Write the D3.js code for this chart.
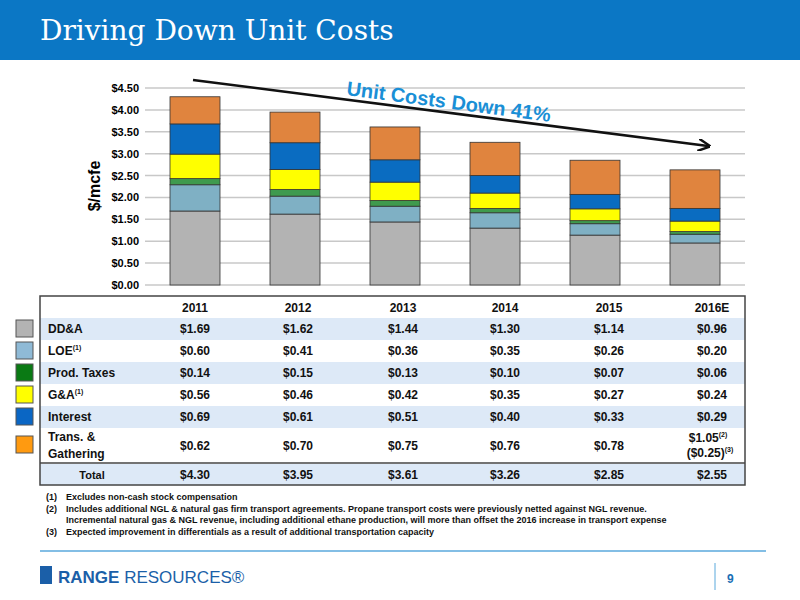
<!DOCTYPE html>
<html><head><meta charset="utf-8">
<script src="https://cdn.jsdelivr.net/npm/d3@7"></script>
<style>body{margin:0;background:#fff}svg{display:block}</style>
</head><body><svg id="c" width="800" height="600"></svg>
<script>
const years = ["2011","2012","2013","2014","2015","2016E"];
const seriesNames = ["DD&A","LOE","Prod. Taxes","G&A","Interest","Trans. & Gathering"];
const seriesColors = ["#b3b3b3","#7fb0c4","#3f9a4e","#ffff00","#0a6cc1","#e0843e"];
const legendColors = ["#b3b3b3","#8fbad6","#0a7a14","#ffff00","#0a66c4","#ff9a10"];
const dda = [1.69,1.62,1.44,1.30,1.14,0.96];
const loe = [0.60,0.41,0.36,0.35,0.26,0.20];
const prodTaxes = [0.14,0.15,0.13,0.10,0.07,0.06];
const ga = [0.56,0.46,0.42,0.35,0.27,0.24];
const interest = [0.69,0.61,0.51,0.40,0.33,0.29];
const transChart = [0.62,0.70,0.75,0.76,0.78,0.88];
const transLabels = ["$0.62","$0.70","$0.75","$0.76","$0.78","$1.05|($0.25)"];
const totals = ["$4.30","$3.95","$3.61","$3.26","$2.85","$2.55"];
const yTicks = [0,0.5,1,1.5,2,2.5,3,3.5,4,4.5];

const svg = d3.select("#c");
const F = "Arial, 'Liberation Sans', sans-serif";
svg.append("rect").attr("width",800).attr("height",60).attr("fill","#0b77c5");
svg.append("text").attr("x",40).attr("y",40).attr("fill","#fff").attr("font-family","'DejaVu Serif', 'Liberation Serif', serif").attr("font-size",28).text("Driving Down Unit Costs");

const x = d3.scaleBand().domain(years).range([145,745]).paddingInner(0.5).paddingOuter(0.25);
const y = d3.scaleLinear().domain([0,4.5]).range([285,88]);
const g = svg.append("g");
g.selectAll("line.grid").data(yTicks).join("line").attr("x1",145).attr("x2",745)
 .attr("y1",d=>y(d)).attr("y2",d=>y(d)).attr("stroke","#c8c8c8").attr("stroke-width",1.5);
const yAxis = d3.axisLeft(y).tickValues(yTicks).tickFormat(d=>"$"+d.toFixed(2)).tickSize(0).tickPadding(6);
const ya = svg.append("g").attr("transform","translate(145,0)").call(yAxis);
ya.select(".domain").remove();
ya.selectAll("text").attr("font-family",F).attr("font-size",11).attr("font-weight","bold").attr("fill","#000");
svg.append("text").attr("transform","translate(100,186) rotate(-90)").attr("text-anchor","middle")
 .attr("font-family",F).attr("font-size",16).attr("font-weight","bold").text("$/mcfe");

const data = years.map((yr,i)=>({yr,v:[dda[i],loe[i],prodTaxes[i],ga[i],interest[i],transChart[i]]}));
const stack = d3.stack().keys(d3.range(6)).value((d,k)=>d.v[k])(data);
stack.forEach((layer,k)=>{
  g.selectAll(null).data(layer).join("rect")
   .attr("x",d=>x(d.data.yr)).attr("width",x.bandwidth())
   .attr("y",d=>y(d[1])).attr("height",d=>y(d[0])-y(d[1]))
   .attr("fill",seriesColors[k]).attr("stroke","#333").attr("stroke-width",0.8);
});
svg.append("defs").append("marker").attr("id","ah").attr("viewBox","0 0 10 10").attr("refX",8).attr("refY",5)
 .attr("markerWidth",5).attr("markerHeight",5).attr("orient","auto")
 .append("path").attr("d","M0,0 L10,5 L0,10").attr("fill","none").attr("stroke","#111").attr("stroke-width",2);
svg.append("line").attr("x1",193).attr("y1",80).attr("x2",708).attr("y2",146).attr("stroke","#111").attr("stroke-width",2.5).attr("marker-end","url(#ah)");
svg.append("text").attr("transform","translate(346,95) rotate(7.5)").attr("font-family",F).attr("font-size",20)
 .attr("font-weight","bold").attr("fill","#1a8fd6").text("Unit Costs Down 41%");

const cols = [195,298,403,505,609,712];
const rowsY = [297,318,340,362,384,406,428,464,485];
const T = svg.append("g");
[1,3,5,7].forEach(r=>T.append("rect").attr("x",40).attr("width",705).attr("y",rowsY[r]).attr("height",rowsY[r+1]-rowsY[r]).attr("fill","#dde9f7"));
T.append("rect").attr("x",40).attr("y",296).attr("width",705).attr("height",189).attr("fill","none").attr("stroke","#444").attr("stroke-width",1.5);
T.append("line").attr("x1",40).attr("x2",745).attr("y1",463).attr("y2",463).attr("stroke","#444").attr("stroke-width",1.5);
const txt=(xx,yy,s,anchor,size,w)=>T.append("text").attr("x",xx).attr("y",yy).attr("text-anchor",anchor||"middle")
  .attr("font-family",F).attr("font-size",size||12).attr("font-weight",w||"bold").attr("fill","#111").text(s);
years.forEach((yr,i)=>txt(cols[i],312,yr));
const vals=[dda,loe,prodTaxes,ga,interest];
const labels=["DD&A","LOE","Prod. Taxes","G&A","Interest"];
labels.forEach((l,k)=>{
  const cy=(rowsY[k+1]+rowsY[k+2])/2+4;
  const t=txt(48,cy,l,"start");
  if(l==="LOE"||l==="G&A") t.append("tspan").attr("font-size",7).attr("dy",-5).text("(1)");
  vals[k].forEach((v,i)=>txt(cols[i],cy,"$"+v.toFixed(2)));
  T.append("rect").attr("x",16).attr("y",cy-13).attr("width",17).attr("height",17).attr("fill",legendColors[k]).attr("stroke","#555");
});
txt(48,441,"Trans. &","start"); txt(48,458,"Gathering","start");
T.append("rect").attr("x",16).attr("y",436).attr("width",17).attr("height",17).attr("fill",legendColors[5]).attr("stroke","#555");
transLabels.forEach((s,i)=>{
  if(s.includes("|")){
    const [a,b]=s.split("|");
    txt(cols[i]-4,442,a).append("tspan").attr("font-size",7).attr("dy",-5).text("(2)");
    txt(cols[i]-2,457,b).append("tspan").attr("font-size",7).attr("dy",-5).text("(3)");
  } else txt(cols[i],450,s);
});
txt(92,479,"Total","middle",11);
totals.forEach((s,i)=>txt(cols[i],479,s));

const notes=[["(1)","Excludes non-cash stock compensation"],["(2)","Includes additional NGL & natural gas firm transport agreements.  Propane transport costs were previously netted against NGL revenue."],["","Incremental natural gas & NGL revenue, including additional ethane production, will more than offset the 2016 increase in transport expense"],["(3)","Expected improvement in differentials as a result of additional transportation capacity"]];
notes.forEach((n,i)=>{
  txt(46,500+i*11.5,n[0],"start",9);
  txt(66,500+i*11.5,n[1],"start",9);
});
svg.append("line").attr("x1",40).attr("x2",766).attr("y1",551).attr("y2",551).attr("stroke","#5aa9dc").attr("stroke-width",1.5);
svg.append("line").attr("x1",715).attr("x2",715).attr("y1",563).attr("y2",590).attr("stroke","#5aa9dc");
svg.append("text").attr("x",727).attr("y",583).attr("font-family",F).attr("font-size",12).attr("fill","#1a6fb5").attr("font-weight","bold").text("9");
svg.append("rect").attr("x",40).attr("y",566).attr("width",12).attr("height",18).attr("fill","#1b5fa8");
svg.append("text").attr("x",58).attr("y",583).attr("font-family",F).attr("font-size",17).attr("fill","#1b5fa8").attr("font-weight","bold").text("RANGE").append("tspan").attr("font-weight","normal").text(" RESOURCES®");
</script></body></html>
